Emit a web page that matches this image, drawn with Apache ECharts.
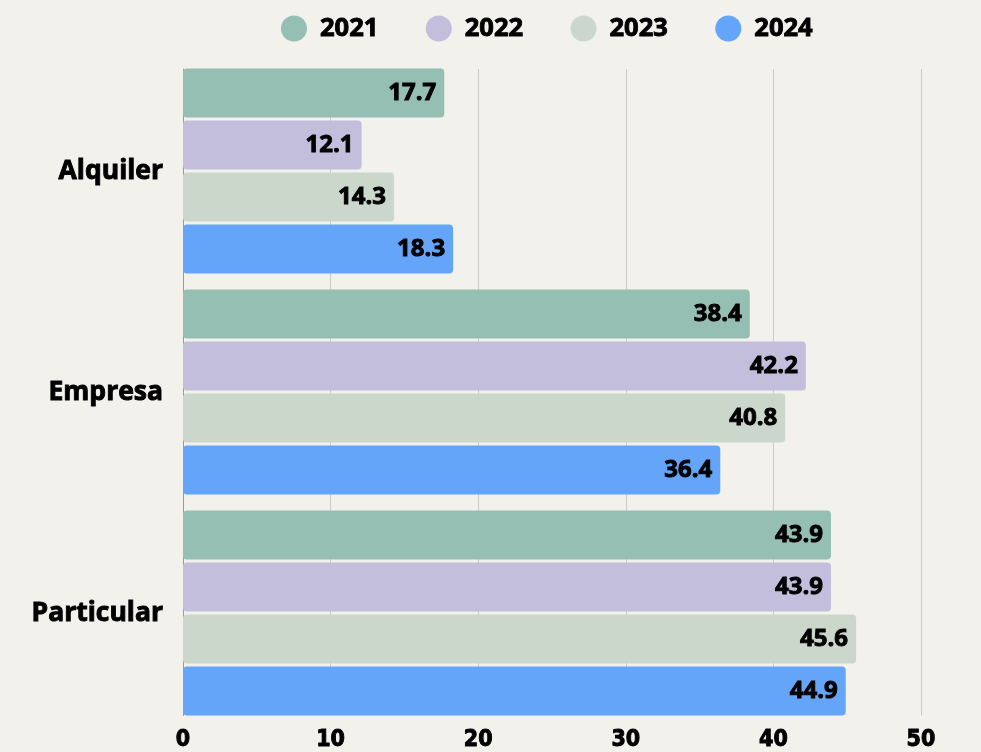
<!DOCTYPE html>
<html>
<head>
<meta charset="utf-8">
<script src="https://cdn.jsdelivr.net/npm/echarts@6/dist/echarts.min.js"></script>
<style>
html,body{margin:0;padding:0;background:#f2f1ec;}
#chart{width:981px;height:752px;}
</style>
</head>
<body>
<div id="chart"></div>
<script>
const categories = ['Alquiler', 'Empresa', 'Particular'];
const years = ['2021', '2022', '2023', '2024'];
const values2021 = [17.7, 38.4, 43.9];
const values2022 = [12.1, 42.2, 43.9];
const values2023 = [14.3, 40.8, 45.6];
const values2024 = [18.3, 36.4, 44.9];
const colors = ['#95bfb2', '#c3bedc', '#ccd7cb', '#64a5fa'];
const xTicks = {min: 0, max: 50, interval: 10};

const seriesValues = [values2021, values2022, values2023, values2024];
const FONT = '"Open Sans", sans-serif';
const NARROW = '"Liberation Sans Narrow", "DejaVu Sans Condensed", "Open Sans", sans-serif';
const heavy = {textBorderColor: '#000', textBorderWidth: 0.9};

const chart = echarts.init(document.getElementById('chart'));
chart.setOption({
  backgroundColor: '#f2f1ec',
  animation: false,
  legend: {
    top: 10, left: 276,
    icon: 'circle', itemWidth: 26, itemHeight: 26, itemGap: 47,
    textStyle: Object.assign({fontFamily: FONT, fontWeight: 'bold', fontSize: 25.5, color: '#000', padding: [0,0,0,8]}, heavy),
    data: years
  },
  grid: [
    {left: 183, width: 738, top: 69, height: 647},
    {left: 183, width: 738, top: 60.5, height: 663}
  ],
  xAxis: [
    {gridIndex: 0, type: 'value', min: xTicks.min, max: xTicks.max, interval: xTicks.interval,
     splitLine: {show: true, lineStyle: {color: '#c9c9c6', width: 1}},
     axisLine: {show: false}, axisTick: {show: false},
     axisLabel: Object.assign({margin: 13, fontFamily: NARROW, fontWeight: 'bold', fontSize: 23, color: '#000'}, heavy)},
    {gridIndex: 1, type: 'value', min: xTicks.min, max: xTicks.max, interval: xTicks.interval,
     show: false, splitLine: {show: false}}
  ],
  yAxis: [
    {gridIndex: 0, type: 'category', data: categories, inverse: true,
     axisLine: {show: true, lineStyle: {color: '#9a9a98', width: 1}},
     axisTick: {show: false}, axisLabel: {show: false}, splitLine: {show: false}},
    {gridIndex: 1, type: 'category', data: categories, inverse: true,
     axisLine: {show: false}, axisTick: {show: false},
     axisLabel: Object.assign({margin: 20, fontFamily: FONT, fontWeight: 'bold', fontSize: 26.5, color: '#000'}, heavy)}
  ],
  series: years.map((y, i) => ({
    name: y, type: 'bar', xAxisIndex: 1, yAxisIndex: 1,
    data: seriesValues[i],
    barWidth: 49, barGap: '6%',
    itemStyle: {color: colors[i], borderRadius: 4},
    label: Object.assign({show: true, position: 'insideRight', distance: 8,
            fontFamily: FONT, fontWeight: 'bold', fontSize: 24, color: '#000'}, heavy)
  })),
  color: colors
});
</script>
</body>
</html>
